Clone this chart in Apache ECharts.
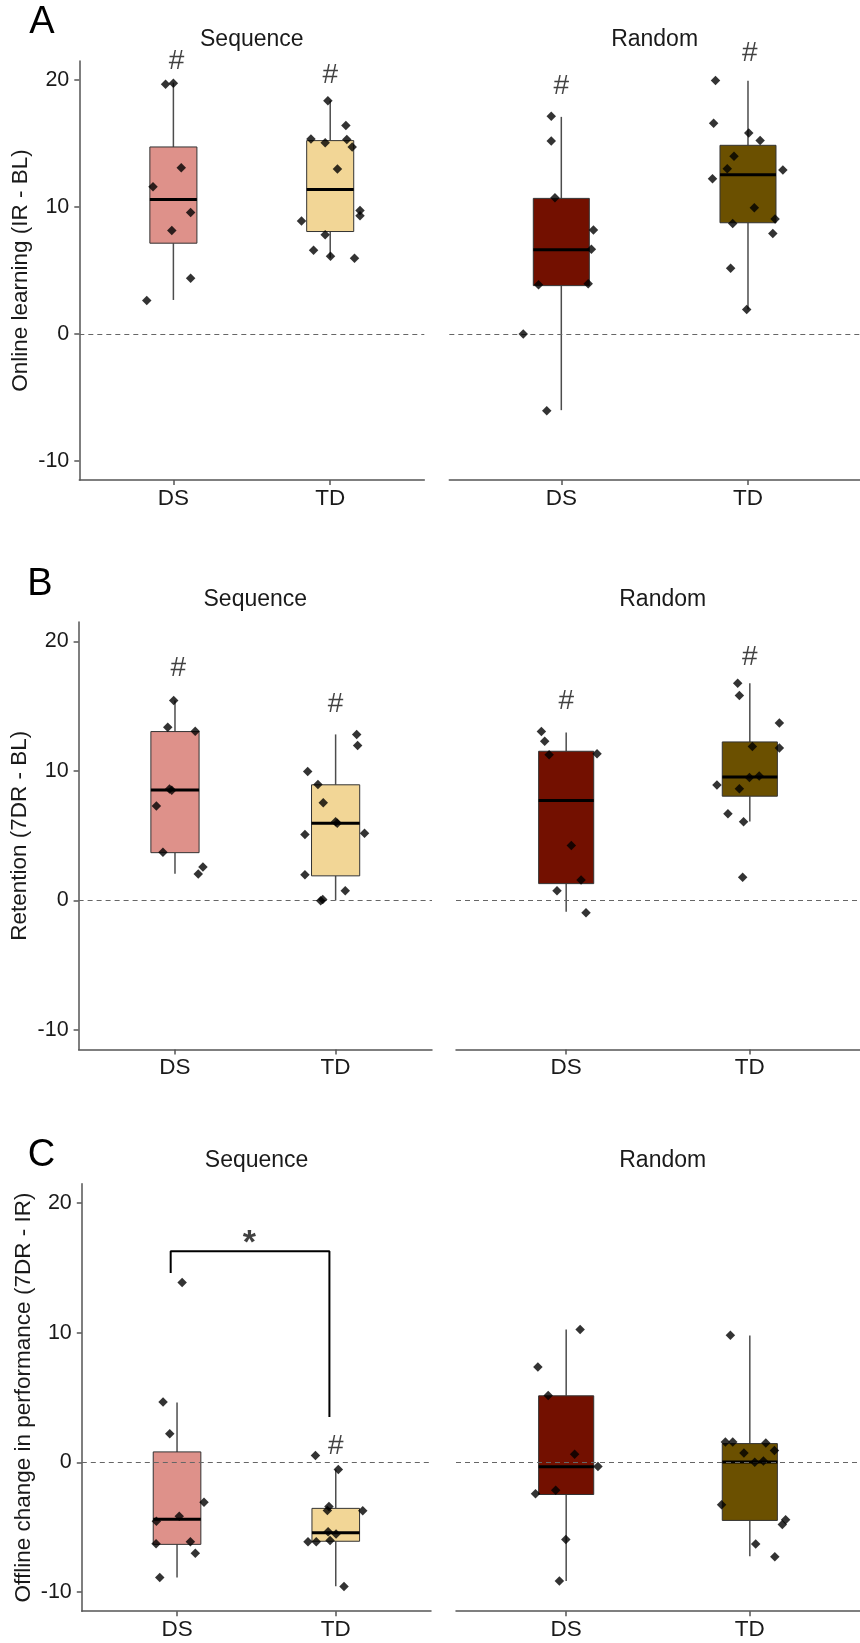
<!DOCTYPE html>
<html><head><meta charset="utf-8">
<script src="https://cdn.jsdelivr.net/npm/echarts@6/dist/echarts.min.js"></script>
<style>html,body{margin:0;padding:0;background:#fff}#c{width:860px;height:1643px}</style>
</head><body><div id="c"></div>
<script>
// ---------------- data ----------------
const categories = ['DS', 'TD'];
const conditions = ['Sequence', 'Random'];
const panelLetters = ['A', 'B', 'C'];
const yTitles = ['Online learning (IR - BL)', 'Retention (7DR - BL)', 'Offline change in performance (7DR - IR)'];
const yTicks = [-10, 0, 10, 20];

// box stats: [lower whisker, Q1, median, Q3, upper whisker] for DS, TD
const boxA_seq = [[2.68, 7.15, 10.6, 14.73, 19.8], [6.0, 8.07, 11.37, 15.23, 18.36]];
const boxA_rnd = [[-6.0, 3.81, 6.63, 10.68, 17.1], [1.92, 8.76, 12.55, 14.86, 19.94]];
const boxB_seq = [[2.07, 3.69, 8.52, 13.04, 15.44], [0.0, 1.9, 5.96, 8.93, 12.82]];
const boxB_rnd = [[-0.88, 1.3, 7.72, 11.52, 12.96], [6.09, 8.05, 9.54, 12.24, 16.77]];
const boxC_seq = [[-8.9, -6.34, -4.41, 0.8, 4.62], [-9.57, -6.1, -5.45, -3.56, -0.56]];
const boxC_rnd = [[-9.17, -2.49, -0.35, 5.13, 10.26], [-7.25, -4.49, 0.02, 1.44, 9.78]];

// individual participants: values and horizontal jitter (category units)
const A_seq_DS_y = [19.67, 19.75, 11.6, 13.1, 9.57, 8.15, 4.39, 2.63];
const A_seq_DS_j = [-0.05, 0.0, -0.13, 0.05, 0.11, -0.01, 0.11, -0.17];
const A_seq_TD_y = [18.36, 16.42, 15.36, 15.07, 15.31, 14.73, 12.99, 9.73, 9.31, 8.89, 7.81, 6.6, 6.13, 5.97];
const A_seq_TD_j = [-0.015, 0.10, -0.123, -0.032, 0.106, 0.14, 0.046, 0.19, 0.19, -0.183, -0.032, -0.106, 0.002, 0.155];
const A_rnd_DS_y = [17.15, 15.2, 10.73, 8.18, 6.68, 3.87, 3.95, 0.0, -6.05];
const A_rnd_DS_j = [-0.054, -0.054, -0.034, 0.172, 0.161, -0.122, 0.144, -0.204, -0.078];
const A_rnd_TD_y = [19.97, 16.6, 15.83, 15.23, 13.99, 13.02, 12.91, 12.23, 9.94, 9.05, 8.71, 7.92, 5.18, 1.92];
const A_rnd_TD_j = [-0.174, -0.184, 0.004, 0.065, -0.075, -0.111, 0.187, -0.19, 0.034, 0.145, -0.082, 0.133, -0.093, -0.007];

const B_seq_DS_y = [15.44, 13.37, 13.07, 8.6, 8.5, 7.3, 3.72, 2.59, 2.04];
const B_seq_DS_j = [-0.008, -0.045, 0.126, -0.034, -0.02, -0.116, -0.075, 0.174, 0.145];
const B_seq_TD_y = [12.82, 11.97, 9.95, 8.96, 7.55, 6.07, 5.97, 5.1, 5.18, 1.99, 0.74, 0.08, -0.03];
const B_seq_TD_j = [0.131, 0.137, -0.174, -0.11, -0.077, 0.0, 0.01, -0.191, 0.18, -0.191, 0.06, -0.08, -0.093];
const B_rnd_DS_y = [13.04, 12.3, 11.25, 11.33, 4.24, 1.57, 0.74, -0.94];
const B_rnd_DS_j = [-0.135, -0.117, -0.093, 0.168, 0.028, 0.081, -0.05, 0.108];
const B_rnd_TD_y = [16.77, 15.83, 13.7, 11.88, 11.77, 9.49, 9.6, 8.91, 8.63, 6.7, 6.07, 1.79];
const B_rnd_TD_j = [-0.066, -0.057, 0.161, 0.014, 0.161, -0.002, 0.051, -0.179, -0.057, -0.119, -0.034, -0.039];

const C_seq_DS_y = [13.87, 4.65, 2.21, -3.08, -4.17, -4.55, -6.13, -6.29, -7.03, -8.9];
const C_seq_DS_j = [0.032, -0.088, -0.046, 0.17, 0.014, -0.13, 0.084, -0.132, 0.115, -0.109];
const C_seq_TD_y = [0.53, -0.56, -3.42, -3.72, -3.74, -5.37, -5.53, -6.13, -6.13, -6.05, -9.6];
const C_seq_TD_j = [-0.128, 0.016, -0.043, -0.053, 0.17, -0.048, 0.002, -0.175, -0.123, -0.036, 0.052];
const C_rnd_DS_y = [10.26, 7.35, 5.16, 0.61, -0.32, -2.44, -2.17, -5.97, -9.17];
const C_rnd_DS_j = [0.076, -0.154, -0.098, 0.046, 0.173, -0.167, -0.057, -0.002, -0.037];
const C_rnd_TD_y = [9.81, 1.57, 1.57, 1.49, 0.72, 0.91, 0.0, 0.1, -3.29, -4.44, -4.81, -6.31, -7.3];
const C_rnd_TD_j = [-0.106, -0.133, -0.093, 0.087, -0.032, 0.134, 0.027, 0.074, -0.154, 0.195, 0.177, 0.032, 0.136];

// "#" significance markers vs zero: [x, y] in data units
const hashA_seq = [[1.02, 21.5], [2.0, 20.4]];
const hashA_rnd = [[1.0, 19.5], [2.01, 22.1]];
const hashB_seq = [[1.02, 17.96], [2.0, 15.14]];
const hashB_rnd = [[1.0, 15.39], [2.0, 18.78]];
const hashC_seq = [[2.0, 1.26]];
const hashC_rnd = [];
// between-group bracket and star (panel C, Sequence)
const bracketC = [[0.96, 14.62], [0.96, 16.29], [1.96, 16.29], [1.96, 3.49]];
const starC = [[1.456, 17.5]];

// ---------------- assembly ----------------
const FONT = '"Liberation Sans", Arial, Helvetica, sans-serif';
const fills = [['#DE918A', '#F2D696'], ['#731000', '#6B5000']];
const BOX_W = 0.3;

const panels = [
  [{box: boxA_seq, pts: [[A_seq_DS_y, A_seq_DS_j], [A_seq_TD_y, A_seq_TD_j]], hash: hashA_seq},
   {box: boxA_rnd, pts: [[A_rnd_DS_y, A_rnd_DS_j], [A_rnd_TD_y, A_rnd_TD_j]], hash: hashA_rnd}],
  [{box: boxB_seq, pts: [[B_seq_DS_y, B_seq_DS_j], [B_seq_TD_y, B_seq_TD_j]], hash: hashB_seq},
   {box: boxB_rnd, pts: [[B_rnd_DS_y, B_rnd_DS_j], [B_rnd_TD_y, B_rnd_TD_j]], hash: hashB_rnd}],
  [{box: boxC_seq, pts: [[C_seq_DS_y, C_seq_DS_j], [C_seq_TD_y, C_seq_TD_j]], hash: hashC_seq},
   {box: boxC_rnd, pts: [[C_rnd_DS_y, C_rnd_DS_j], [C_rnd_TD_y, C_rnd_TD_j]], hash: hashC_rnd}]
];

const gridPos = [
  {left: 79.3, top: 61, width: 345, height: 419},
  {left: 449.3, top: 61, width: 410.7, height: 419},
  {left: 78.6, top: 622, width: 353.4, height: 427.4},
  {left: 456, top: 622, width: 413.6, height: 427.4},
  {left: 81.8, top: 1183.8, width: 349.2, height: 427.4},
  {left: 456, top: 1183.8, width: 413.6, height: 427.4}
];
const titlePos = [[251.8, 40], [654.6, 40], [255.3, 600], [662.7, 600], [256.6, 1161], [662.7, 1161]];
const letterPos = [[42, 23], [40, 585], [41.5, 1156]];

const axisColor = '#555';
const grid = [], xAxis = [], yAxis = [], series = [], graphic = [];

panels.forEach((row, p) => {
  row.forEach((cell, c) => {
    const gi = p * 2 + c;
    grid.push(Object.assign({}, gridPos[gi]));
    xAxis.push({
      type: 'value', gridIndex: gi, min: 0.4, max: 2.6,
      axisLine: {show: true, onZero: false, lineStyle: {color: axisColor, width: 1.5}},
      axisTick: {show: true, customValues: [1, 2], length: 5, lineStyle: {color: axisColor, width: 1.5}},
      axisLabel: {customValues: [1, 2], formatter: v => categories[Math.round(v) - 1], fontSize: 22.5, color: '#1a1a1a', margin: 7, fontFamily: FONT},
      splitLine: {show: false}
    });
    yAxis.push({
      type: 'value', gridIndex: gi, min: -11.5, max: 21.5, show: c === 0,
      axisLine: {show: true, onZero: false, lineStyle: {color: axisColor, width: 1.5}},
      axisTick: {show: true, customValues: yTicks, length: 5, lineStyle: {color: axisColor, width: 1.5}},
      axisLabel: {customValues: yTicks, fontSize: 21.5, color: '#1a1a1a', margin: 10, fontFamily: FONT},
      splitLine: {show: false},
      name: c === 0 ? yTitles[p] : '', nameLocation: 'middle', nameGap: 47,
      nameTextStyle: {fontSize: 22.5, color: '#1a1a1a', fontFamily: FONT}
    });
    // boxes
    series.push({
      type: 'custom', xAxisIndex: gi, yAxisIndex: gi, z: 1, clip: false,
      data: cell.box.map((b, k) => [k + 1].concat(b)),
      encode: {x: 0, y: [1, 2, 3, 4, 5]},
      renderItem: (params, api) => {
        const x = api.value(0);
        const lo = api.coord([x, api.value(1)]);
        const q1 = api.coord([x, api.value(2)]);
        const md = api.coord([x, api.value(3)]);
        const q3 = api.coord([x, api.value(4)]);
        const hi = api.coord([x, api.value(5)]);
        const w = api.size([BOX_W, 0])[0];
        const cx = md[0];
        const wl = {stroke: '#4d4d4d', lineWidth: 1.5};
        return {type: 'group', children: [
          {type: 'line', shape: {x1: cx, y1: hi[1], x2: cx, y2: q3[1]}, style: wl},
          {type: 'line', shape: {x1: cx, y1: q1[1], x2: cx, y2: lo[1]}, style: wl},
          {type: 'rect', shape: {x: cx - w / 2, y: q3[1], width: w, height: q1[1] - q3[1]},
           style: {fill: fills[c][params.dataIndex], stroke: '#333', lineWidth: 1}},
          {type: 'line', shape: {x1: cx - w / 2, y1: md[1], x2: cx + w / 2, y2: md[1]}, style: {stroke: '#000', lineWidth: 3}}
        ]};
      }
    });
    // points
    const pts = [];
    cell.pts.forEach((pair, k) => {
      pair[0].forEach((v, i) => pts.push([k + 1 + pair[1][i], v]));
    });
    series.push({
      type: 'scatter', xAxisIndex: gi, yAxisIndex: gi, z: 3, clip: false,
      symbol: 'diamond', symbolSize: 9.5, itemStyle: {color: '#000'},
      data: pts,
      markLine: {silent: true, z: 2, symbol: ['none', 'none'], label: {show: false},
        lineStyle: {type: [5, 4], color: '#666', width: 1.2}, data: [{yAxis: 0}]}
    });
    // '#' markers
    if (cell.hash.length) {
      series.push({
        type: 'scatter', xAxisIndex: gi, yAxisIndex: gi, z: 4, clip: false,
        symbolSize: 1, itemStyle: {color: 'rgba(0,0,0,0)'},
        data: cell.hash,
        label: {show: true, position: 'inside', formatter: '#', fontSize: 28, color: '#111', fontFamily: FONT}
      });
    }
    graphic.push({type: 'text', x: titlePos[gi][0], y: titlePos[gi][1],
      style: {text: conditions[c], align: 'center', verticalAlign: 'middle', fontSize: 23, fill: '#1a1a1a', fontFamily: FONT}});
  });
  graphic.push({type: 'text', x: letterPos[p][0], y: letterPos[p][1],
    style: {text: panelLetters[p], align: 'center', verticalAlign: 'middle', fontSize: 38, fill: '#000', fontFamily: FONT}});
});

// bracket and star in panel C / Sequence (grid 4)
series.push({
  type: 'line', xAxisIndex: 4, yAxisIndex: 4, z: 4, symbol: 'none', clip: false,
  data: bracketC, lineStyle: {color: '#000', width: 2}
});
series.push({
  type: 'scatter', xAxisIndex: 4, yAxisIndex: 4, z: 4, clip: false,
  symbolSize: 1, itemStyle: {color: 'rgba(0,0,0,0)'}, data: starC,
  label: {show: true, position: 'inside', formatter: '*', fontSize: 34, fontWeight: 'bold', color: '#111', offset: [0, 8], fontFamily: FONT}
});

const chart = echarts.init(document.getElementById('c'), null, {renderer: 'canvas'});
chart.setOption({
  animation: false,
  backgroundColor: '#fff',
  textStyle: {fontFamily: FONT},
  grid, xAxis, yAxis, series, graphic
});
</script></body></html>
